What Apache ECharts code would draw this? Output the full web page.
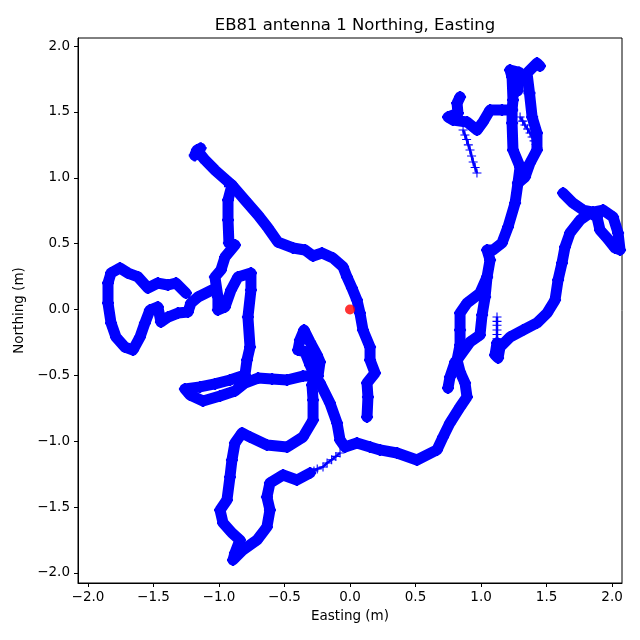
<!DOCTYPE html>
<html>
<head>
<meta charset="utf-8">
<script src="https://cdn.jsdelivr.net/npm/echarts@6/dist/echarts.min.js"></script>
<style>
  html, body { margin: 0; padding: 0; background: #fff; }
  #main { width: 640px; height: 640px; }
</style>
</head>
<body>
<div id="main"></div>
<script>
// track pieces, [easting, northing] in metres
const trackNorthWest = [
  [-1.140, 1.225], [-1.185, 1.170], [-1.168, 1.211],
  [-1.107, 1.135], [-1.031, 1.059], [-0.901, 0.945], [-0.802, 0.831],
  [-0.702, 0.717], [-0.626, 0.619], [-0.550, 0.512], [-0.435, 0.467], [-0.344, 0.452],
  [-0.282, 0.406], [-0.214, 0.429], [-0.130, 0.391], [-0.053, 0.323], [-0.023, 0.247],
  [0.015, 0.163], [0.053, 0.072], [0.076, -0.027], [0.099, -0.156], [0.153, -0.285],
  [0.153, -0.383], [0.191, -0.482], [0.130, -0.558], [0.137, -0.664], [0.130, -0.816]
];
const trackWestDown = [
  [-0.901, 0.945], [-0.916, 0.937], [-0.931, 0.831], [-0.931, 0.679], [-0.924, 0.505],
  [-0.878, 0.490], [-0.954, 0.398], [-0.985, 0.300], [-1.031, 0.247], [-1.008, 0.095],
  [-1.008, -0.004], [-0.954, 0.019], [-0.908, 0.148], [-0.855, 0.247], [-0.756, 0.277],
  [-0.756, 0.148], [-0.779, -0.057], [-0.763, -0.285], [-0.786, -0.383], [-0.802, -0.497],
  [-0.916, -0.535], [-1.031, -0.565], [-1.145, -0.588], [-1.260, -0.603], [-1.221, -0.649],
  [-1.122, -0.694], [-0.992, -0.657], [-0.878, -0.619], [-0.802, -0.558], [-0.702, -0.520],
  [-0.595, -0.528], [-0.481, -0.535], [-0.359, -0.505], [-0.267, -0.505]
];
const trackSpike = [
  [-0.267, -0.505], [-0.305, -0.421], [-0.344, -0.323], [-0.397, -0.307], [-0.382, -0.231],
  [-0.351, -0.156], [-0.305, -0.247], [-0.252, -0.345], [-0.229, -0.398], [-0.244, -0.505]
];
const trackWestLoop = [
  [-1.053, 0.148], [-1.160, 0.095], [-1.214, 0.049], [-1.237, -0.019], [-1.313, -0.027],
  [-1.389, -0.057], [-1.443, -0.095], [-1.466, 0.019], [-1.527, -0.004], [-1.565, -0.102],
  [-1.603, -0.209], [-1.656, -0.307], [-1.718, -0.285], [-1.786, -0.209], [-1.824, -0.102],
  [-1.847, 0.049], [-1.847, 0.201], [-1.824, 0.277], [-1.756, 0.315], [-1.695, 0.277],
  [-1.618, 0.247], [-1.542, 0.163], [-1.466, 0.201], [-1.389, 0.186], [-1.328, 0.201],
  [-1.252, 0.125]
];
const trackSouthLoop = [
  [-0.267, -0.505], [-0.290, -0.573], [-0.282, -0.687], [-0.282, -0.839], [-0.359, -0.968],
  [-0.481, -1.044], [-0.634, -1.028], [-0.763, -0.968], [-0.824, -0.937], [-0.878, -1.013],
  [-0.901, -1.142], [-0.916, -1.271], [-0.939, -1.446], [-0.992, -1.522], [-0.969, -1.620],
  [-0.901, -1.696], [-0.840, -1.750], [-0.878, -1.848], [-0.893, -1.901], [-0.817, -1.825],
  [-0.710, -1.750], [-0.634, -1.651], [-0.611, -1.522], [-0.634, -1.423], [-0.611, -1.317],
  [-0.511, -1.256], [-0.405, -1.294], [-0.305, -1.241]
];
const trackEast = [
  [-0.267, -0.505], [-0.229, -0.558], [-0.153, -0.710], [-0.099, -0.861], [-0.076, -0.991],
  [-0.038, -1.044], [0.053, -1.013], [0.153, -1.044], [0.229, -1.066], [0.359, -1.089],
  [0.511, -1.142], [0.664, -1.066], [0.710, -0.968], [0.763, -0.861], [0.840, -0.740],
  [0.893, -0.664], [0.878, -0.558], [0.840, -0.474], [0.817, -0.383], [0.840, -0.269],
  [0.840, -0.156], [0.840, -0.027], [0.893, 0.049], [0.992, 0.125], [1.046, 0.247],
  [1.069, 0.376], [1.046, 0.452], [1.092, 0.452], [1.160, 0.505], [1.206, 0.626],
  [1.260, 0.808], [1.282, 0.960], [1.298, 1.082], [1.244, 1.211], [1.237, 1.416],
  [1.237, 1.514], [1.244, 1.590], [1.237, 1.765], [1.221, 1.818], [1.290, 1.800], [1.280, 1.660]
];
const trackEastLoopSide = [
  [0.817, -0.383], [0.916, -0.247], [0.992, -0.194], [1.008, -0.042], [1.031, 0.095], [1.046, 0.247]
];
const trackEastDangle = [[0.802, -0.398], [0.763, -0.512], [0.748, -0.596]];
const trackNorthEastStrand = [
  [1.282, 0.960], [1.336, 1.006], [1.374, 1.112], [1.427, 1.211], [1.427, 1.340],
  [1.390, 1.461], [1.370, 1.643], [1.351, 1.795], [1.427, 1.871], [1.450, 1.848]
];
const trackNorthBlob = [
  [1.237, 1.514], [1.160, 1.514], [1.069, 1.514], [1.015, 1.423], [0.969, 1.362],
  [0.893, 1.423], [0.786, 1.438], [0.748, 1.461], [0.824, 1.491], [0.817, 1.567], [0.840, 1.613]
];
const trackFarEast = [
  [1.122, -0.254], [1.107, -0.345], [1.130, -0.368], [1.145, -0.285], [1.221, -0.209],
  [1.321, -0.156], [1.427, -0.102], [1.504, -0.027], [1.565, 0.072], [1.588, 0.224],
  [1.618, 0.353], [1.641, 0.474], [1.679, 0.581], [1.756, 0.679], [1.832, 0.732],
  [1.885, 0.702], [1.908, 0.603], [1.962, 0.543], [2.023, 0.467], [2.061, 0.452],
  [2.046, 0.581], [2.008, 0.702], [1.931, 0.755], [1.855, 0.740], [1.779, 0.755],
  [1.702, 0.808], [1.626, 0.884]
];
// sparse stretches where single markers show
const sparseTails = [
  [[0.863, 1.362], [0.877, 1.325], [0.890, 1.290], [0.903, 1.250], [0.916, 1.211],
   [0.928, 1.165], [0.940, 1.120], [0.955, 1.078], [0.969, 1.036]],
  [[1.298, 1.461], [1.318, 1.430], [1.335, 1.400], [1.355, 1.370], [1.374, 1.340],
   [1.390, 1.310], [1.405, 1.280], [1.420, 1.252], [1.435, 1.226]],
  [[1.122, -0.057], [1.122, -0.090], [1.122, -0.120], [1.122, -0.155], [1.122, -0.190],
   [1.122, -0.222], [1.122, -0.254]],
  [[-0.305, -1.241], [-0.275, -1.225], [-0.250, -1.210], [-0.206, -1.195], [-0.175, -1.165],
   [-0.140, -1.140], [-0.108, -1.115], [-0.076, -1.089]]
];
const origin = [[0, 0]];
const tickValues = [-2.0, -1.5, -1.0, -0.5, 0.0, 0.5, 1.0, 1.5, 2.0];

const thickPieces = [trackNorthWest, trackWestDown, trackSpike, trackWestLoop, trackSouthLoop,
  trackEast, trackEastLoopSide, trackEastDangle, trackNorthEastStrand, trackNorthBlob, trackFarEast];

const plusPath = 'path://M4,0H6V4H10V6H6V10H4V6H0V4H4Z';
const thinPlus = 'path://M4.4,0H5.6V4.4H10V5.6H5.6V10H4.4V5.6H0V4.4H4.4Z';
const fmt = v => v.toFixed(1).replace('-', '\u2212');
const font = 'DejaVu Sans';

const series = [];
thickPieces.forEach(p => {
  series.push({
    type: 'line', data: p, animation: false, silent: true,
    symbol: plusPath, symbolSize: 12, showSymbol: true,
    itemStyle: { color: '#0000ff' },
    lineStyle: { color: '#0000ff', width: 11, cap: 'round', join: 'round' }
  });
});
sparseTails.forEach(p => {
  series.push({
    type: 'line', data: p, animation: false, silent: true,
    symbol: thinPlus, symbolSize: 9, showSymbol: true,
    itemStyle: { color: '#0000ff' },
    lineStyle: { color: '#0000ff', width: 2.5 }
  });
});
series.push({
  type: 'scatter', data: origin, animation: false, symbol: 'circle', symbolSize: 10,
  itemStyle: { color: '#ff0000' }, z: 10
});

const chart = echarts.init(document.getElementById('main'));
chart.setOption({
  backgroundColor: '#fff',
  title: {
    text: 'EB81 antenna 1 Northing, Easting',
    left: 350, top: 12, textAlign: 'center',
    textStyle: { fontFamily: font, fontSize: 16.5, fontWeight: 'normal', color: '#000' }
  },
  grid: { left: 78, right: 18, top: 38, bottom: 57, show: true, borderColor: '#000', borderWidth: 1 },
  xAxis: {
    type: 'value', min: -2.076, max: 2.076,
    name: 'Easting (m)', nameLocation: 'middle', nameGap: 26,
    nameTextStyle: { fontFamily: font, fontSize: 13.5, color: '#000' },
    axisLine: { show: true, onZero: false, lineStyle: { color: '#000' } },
    axisTick: { show: true, length: 4, customValues: tickValues, lineStyle: { color: '#000' } },
    axisLabel: { customValues: tickValues, formatter: fmt, fontFamily: font, fontSize: 13.5, color: '#000', margin: 7 },
    splitLine: { show: false }
  },
  yAxis: {
    type: 'value', min: -2.076, max: 2.061,
    name: 'Northing (m)', nameLocation: 'middle', nameGap: 49,
    nameTextStyle: { fontFamily: font, fontSize: 13.5, color: '#000' },
    axisLine: { show: true, onZero: false, lineStyle: { color: '#000' } },
    axisTick: { show: true, length: 4, customValues: tickValues, lineStyle: { color: '#000' } },
    axisLabel: { customValues: tickValues, formatter: fmt, fontFamily: font, fontSize: 13.5, color: '#000', margin: 8 },
    splitLine: { show: false }
  },
  series: series
});
</script>
</body>
</html>
